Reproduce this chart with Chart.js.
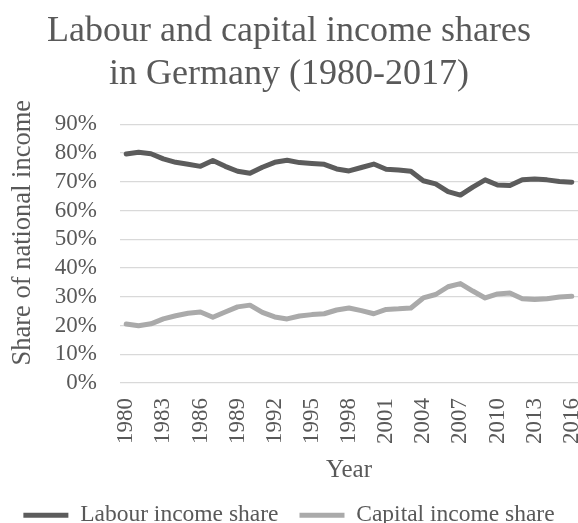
<!DOCTYPE html>
<html>
<head>
<meta charset="utf-8">
<title>Labour and capital income shares</title>
<script src="https://cdn.jsdelivr.net/npm/chart.js@4/dist/chart.umd.min.js"></script>
<style>
  html, body { margin: 0; padding: 0; background: #fff; overflow: hidden; }
  #wrap { width: 578px; height: 523px; }
</style>
</head>
<body>
<div id="wrap"><canvas id="shares-chart" width="578" height="523"></canvas></div>
<script>
// Datos (porcentaje de la renta nacional)
const years = [
  "1980", "1981", "1982", "1983", "1984", "1985", "1986", "1987", "1988", "1989",
  "1990", "1991", "1992", "1993", "1994", "1995", "1996", "1997", "1998", "1999",
  "2000", "2001", "2002", "2003", "2004", "2005", "2006", "2007", "2008", "2009",
  "2010", "2011", "2012", "2013", "2014", "2015", "2016"
];
const labourShare = [
  79.7, 80.3, 79.8, 78.0, 76.8, 76.1, 75.4, 77.4, 75.4, 73.7,
  73.0, 75.1, 76.8, 77.5, 76.7, 76.4, 76.1, 74.5, 73.8, 75.0,
  76.2, 74.4, 74.1, 73.7, 70.4, 69.3, 66.6, 65.4, 68.2, 70.7,
  68.9, 68.7, 70.7, 71.0, 70.7, 70.1, 69.9
];
const capitalShare = [
  20.5, 19.9, 20.6, 22.3, 23.4, 24.3, 24.7, 22.9, 24.7, 26.5,
  27.1, 24.6, 23.0, 22.3, 23.3, 23.8, 24.1, 25.4, 26.1, 25.2,
  24.1, 25.6, 25.8, 26.1, 29.6, 30.8, 33.5, 34.6, 32.0, 29.6,
  31.0, 31.3, 29.3, 29.1, 29.3, 29.9, 30.2
];
const yTicks = [0, 10, 20, 30, 40, 50, 60, 70, 80, 90];
const labelEvery = 3;
const yTitle = "Share of national income";

const SERIF = "'Liberation Serif', 'Times New Roman', serif";
const TEXT = "#595959";

// Título del eje Y: algo más arriba que el centro del área del gráfico
const yTitlePlugin = {
  id: "yTitle",
  afterDraw(chart) {
    const { ctx, chartArea } = chart;
    ctx.save();
    ctx.translate(23, (chartArea.top + chartArea.bottom) / 2 - 21);
    ctx.rotate(-Math.PI / 2);
    ctx.font = "26.5px " + SERIF;
    ctx.fillStyle = TEXT;
    ctx.textAlign = "center";
    ctx.textBaseline = "middle";
    ctx.fillText(yTitle, 0, 0);
    ctx.restore();
  },
};

// Inicializar gráfico
function initChart() {
  const ctx = document.getElementById("shares-chart").getContext("2d");
  return new Chart(ctx, {
    type: "line",
    data: {
      labels: years,
      datasets: [
        {
          label: "Labour income share",
          data: labourShare,
          borderColor: "#5c5c5c",
          backgroundColor: "#5c5c5c",
          borderWidth: 5,
          borderCapStyle: "round",
          borderJoinStyle: "round",
          pointRadius: 0,
          pointStyle: "line",
          tension: 0,
          fill: false,
        },
        {
          label: "Capital income share",
          data: capitalShare,
          borderColor: "#aaaaaa",
          backgroundColor: "#aaaaaa",
          borderWidth: 5,
          borderCapStyle: "round",
          borderJoinStyle: "round",
          pointRadius: 0,
          pointStyle: "line",
          tension: 0,
          fill: false,
        },
      ],
    },
    options: {
      responsive: false,
      animation: false,
      devicePixelRatio: 1,
      layout: { padding: { left: 0, right: 0, top: 0, bottom: -14 } },
      plugins: {
        title: {
          display: true,
          text: ["Labour and capital income shares", "in Germany (1980-2017)"],
          color: TEXT,
          font: { family: SERIF, size: 36, weight: "normal", lineHeight: 1.2 },
          padding: { top: 10, bottom: 28 },
        },
        legend: {
          position: "bottom",
          labels: {
            color: TEXT,
            font: { family: SERIF, size: 23.5 },
            usePointStyle: true,
            pointStyleWidth: 45,
            padding: 21,
          },
        },
        tooltip: { enabled: false },
      },
      scales: {
        x: {
          offset: true,
          grid: { display: false },
          border: { display: false },
          ticks: {
            color: TEXT,
            font: { family: SERIF, size: 23 },
            autoSkip: false,
            minRotation: 90,
            maxRotation: 90,
            padding: 7,
            callback: (value, i) => (i % labelEvery === 0 ? years[i] : ""),
          },
          title: {
            display: true,
            text: "Year",
            color: TEXT,
            font: { family: SERIF, size: 25, lineHeight: 1.2 },
            padding: { top: 0, bottom: -3 },
          },
          // altura fija del eje X para que el área del gráfico acabe en y=381
          afterFit: (scale) => {
            scale.paddingLeft = 0;
            scale.paddingRight = 0;
            scale.height = 99.5;
          },
        },
        y: {
          min: 0,
          max: 90,
          grid: { color: "#d9d9d9", lineWidth: 1.3, drawTicks: false },
          border: { display: false },
          afterBuildTicks: (scale) => {
            scale.ticks = yTicks.map((v) => ({ value: v }));
          },
          ticks: {
            color: TEXT,
            font: { family: SERIF, size: 23 },
            autoSkip: false,
            padding: 23,
            callback: (v) => v + "%",
          },
          afterFit: (scale) => {
            scale.width = 120;
          },
        },
      },
    },
    plugins: [yTitlePlugin],
  });
}

window.onload = function () {
  initChart();
};
</script>
</body>
</html>
